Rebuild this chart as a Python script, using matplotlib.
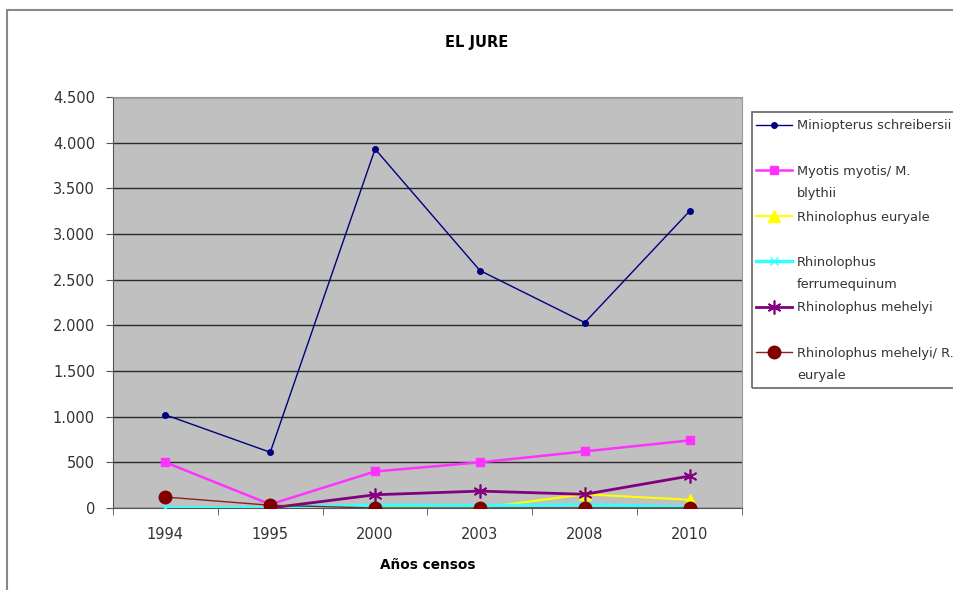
import numpy as np
import matplotlib
matplotlib.use("Agg")
import matplotlib.pyplot as plt
from matplotlib.patches import Rectangle
from matplotlib.ticker import FuncFormatter, FixedLocator

plt.rcParams['font.family'] = ['DejaVu Sans']

years = ['1994', '1995', '2000', '2003', '2008', '2010']
y_ticks = [0, 500, 1000, 1500, 2000, 2500, 3000, 3500, 4000, 4500]

miniopterus = [1020, 610, 3930, 2600, 2030, 3250]
myotis = [500, 40, 400, 500, 620, 740]
euryale = [np.nan, 0, 0, 0, 150, 90]
ferrumequinum = [0, 0, 30, 25, 35, 10]
mehelyi = [np.nan, 0, 145, 185, 150, 350]
mehelyi_euryale = [120, 30, 0, 0, 0, 0]

# legend labels, split in first / second line (Excel wraps them)
label_first = ['Miniopterus schreibersii', 'Myotis myotis/ M.', 'Rhinolophus euryale',
               'Rhinolophus', 'Rhinolophus mehelyi', 'Rhinolophus mehelyi/ R.']
label_second = ['', 'blythii', '', 'ferrumequinum', '', 'euryale']

W, H = 954, 590
fig = plt.figure(figsize=(W / 100, H / 100), dpi=100)
ax = fig.add_axes([113 / W, 1 - 508 / H, 629 / W, 411 / H])
ax.set_facecolor('#c0c0c0')

x = np.arange(len(years))
ax.plot(x, miniopterus, color='#000080', lw=1, marker='o', ms=4, label=label_first[0], zorder=3)
ax.plot(x, myotis, color='#ff33ff', lw=1.8, marker='s', ms=5.5, label=label_first[1], zorder=3)
ax.plot(x, euryale, color='#ffff00', lw=1.5, marker='^', ms=8, label=label_first[2], zorder=3)
ax.plot(x, ferrumequinum, color='#33ffff', lw=2.5, marker='x', ms=6, label=label_first[3], zorder=3)
ax.plot(x, mehelyi, color='#800080', lw=2, marker=(6, 2, 0), ms=10, mew=1.2,
        label=label_first[4], zorder=3)
ax.plot(x, mehelyi_euryale, color='#8b2020', lw=1, marker='o', ms=9, mfc='#800000',
        mec='#800000', label=label_first[5], zorder=4)

ax.set_xlim(-0.5, len(years) - 0.5)
ax.set_ylim(0, 4500)
ax.set_xticks(x)
ax.set_xticklabels(years)
ax.xaxis.set_minor_locator(FixedLocator(np.arange(-0.5, len(years), 1.0)))
ax.tick_params(axis='x', which='major', length=0, pad=14, labelsize=10.5, labelcolor='#333333')
ax.tick_params(axis='x', which='minor', length=5, direction='out', color='#555555')
ax.set_yticks(y_ticks)
ax.yaxis.set_major_formatter(FuncFormatter(lambda v, p: f'{int(v):,}'.replace(',', '.')))
ax.tick_params(axis='y', length=5, pad=8, labelsize=10.5, labelcolor='#333333', color='#555555')

ax.grid(axis='y', color='#2a2a2a', lw=1)
ax.set_axisbelow(True)
for s in ['left', 'bottom']:
    ax.spines[s].set_color('#555555')
for s in ['top', 'right']:
    ax.spines[s].set_color('#999999')

ax.set_xlabel('Años censos', fontsize=9.8, fontweight='bold', labelpad=11)
fig.text(477 / W, 1 - 43 / H, 'EL JURE', fontsize=10.5, fontweight='bold',
         ha='center', va='center')

# legend: entries every ~45.5 px, first entry centred at y=125
fs_leg = 9.3
pitch_target = 45.5
first_y = 126
spacing = 2.2
anchor_y = 1 - 112 / H
for _ in range(3):
    leg = ax.legend(loc='upper left', bbox_to_anchor=(752 / W, anchor_y),
                    bbox_transform=fig.transFigure, fontsize=fs_leg, frameon=False,
                    borderpad=0.3, labelspacing=spacing, handlelength=2.8,
                    handletextpad=0.4, borderaxespad=0)
    fig.canvas.draw()
    r = fig.canvas.get_renderer()
    bbs = [t.get_window_extent(r) for t in leg.get_texts()]
    cy = [(b.y0 + b.y1) / 2 for b in bbs]
    pitch = (cy[0] - cy[-1]) / (len(cy) - 1)
    spacing += (pitch_target - pitch) / (fs_leg * 100 / 72)
    anchor_y += ((H - first_y) - cy[0]) / H
    leg.remove()

leg = ax.legend(loc='upper left', bbox_to_anchor=(752 / W, anchor_y),
                bbox_transform=fig.transFigure, fontsize=fs_leg, frameon=False,
                borderpad=0.3, labelspacing=spacing, handlelength=2.8,
                handletextpad=0.4, borderaxespad=0)
fig.canvas.draw()
r = fig.canvas.get_renderer()
for t, extra in zip(leg.get_texts(), label_second):
    t.set_color('#333333')
    if extra:
        b = t.get_window_extent(r)
        fig.text(b.x0 / W, ((b.y0 + b.y1) / 2 - 22) / H, extra, fontsize=fs_leg,
                 color='#333333', va='center', ha='left')

fig.add_artist(Rectangle((752 / W, 1 - 388 / H), 0.3, (388 - 112) / H,
                         transform=fig.transFigure, fill=False,
                         edgecolor='#666666', lw=1.2))

# outer chart border
fig.add_artist(Rectangle((7 / W, -0.1), 1.1, 1.1 - 10 / H,
                         transform=fig.transFigure, fill=False,
                         edgecolor='#888888', lw=1.5))

fig.savefig('out.png', dpi=100)
